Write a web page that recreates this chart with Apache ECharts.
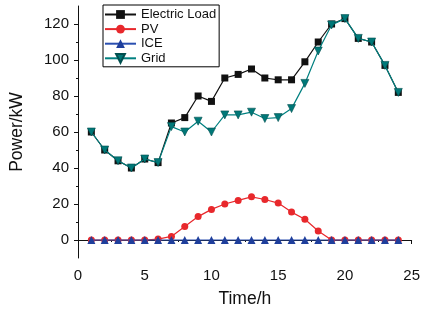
<!DOCTYPE html>
<html><head><meta charset="utf-8">
<script src="https://cdn.jsdelivr.net/npm/echarts@6/dist/echarts.min.js"></script>
<style>html,body{margin:0;padding:0;background:#fff}#c{width:423px;height:321px}</style>
</head><body><div id="c"></div>
<script>
const hours = [1,2,3,4,5,6,7,8,9,10,11,12,13,14,15,16,17,18,19,20,21,22,23,24];
const electricLoad = [60,50,44,40,45,43,65,68,80,77,90,92,95,90,89,89,99,110,120,123,112,110,97,82];
const pv = [0,0,0,0,0,0.5,2,7.5,13,17,20,22,24,22.5,20.5,15.5,11.5,5,0,0,0,0,0,0];
const ice = [0,0,0,0,0,0,0,0,0,0,0,0,0,0,0,0,0,0,0,0,0,0,0,0];
const grid = [60,50,44,40,45,43,63,60,66,60,69.5,69.5,71,67.5,68,73,87,105,119.5,123,112,110,97,82];
const yLabels = [0,20,40,60,80,100,120];
const yMinor = [10,30,50,70,90,110];

const pair = a => hours.map((h,i)=>[h,a[i]]);
const chart = echarts.init(document.getElementById('c'));
const font = 'Liberation Sans, Arial, sans-serif';
chart.setOption({
  animation:false,
  grid:{left:74,right:10,top:6,bottom:63},
  legend:{
    orient:'vertical', left:103, top:5, itemWidth:31, itemHeight:11, itemGap:1.6,
    padding:[3,3,2,1], borderColor:'#000', borderWidth:1, backgroundColor:'#fff',
    textStyle:{fontFamily:font,fontSize:13,lineHeight:13,color:'#111',padding:[0,0,0,0]},
    data:['Electric Load','PV','ICE','Grid']
  },
  xAxis:{
    type:'value', min:0, max:25, interval:5,
    name:'Time/h', nameLocation:'middle', nameGap:32,
    nameTextStyle:{fontFamily:font,fontSize:17.5,color:'#111'},
    axisLine:{lineStyle:{color:'#111',width:1}},
    axisTick:{length:4,lineStyle:{color:'#111'}},
    minorTick:{show:true,splitNumber:2,length:2,lineStyle:{color:'#111'}},
    splitLine:{show:false},
    axisLabel:{fontFamily:font,fontSize:15,color:'#111',margin:10}
  },
  yAxis:[{
    type:'value', min:-10, max:130,
    name:'Power/kW', nameLocation:'middle', nameGap:52,
    nameTextStyle:{fontFamily:font,fontSize:17.5,color:'#111'},
    axisLine:{show:true,lineStyle:{color:'#111',width:1}},
    axisTick:{show:true,length:4,customValues:yLabels,lineStyle:{color:'#111'}},
    axisLabel:{fontFamily:font,fontSize:15,color:'#111',margin:9,customValues:yLabels},
    splitLine:{show:false}
  },{
    type:'value', min:-10, max:130, position:'left',
    axisLine:{show:false},
    axisTick:{show:true,length:2,customValues:yMinor,lineStyle:{color:'#111'}},
    axisLabel:{show:false},
    splitLine:{show:false}
  }],
  series:[
    {name:'Electric Load',type:'line',data:pair(electricLoad),symbol:'rect',symbolSize:7,
     lineStyle:{color:'#111',width:1.2},itemStyle:{color:'#111'},z:2},
    {name:'PV',type:'line',data:pair(pv),symbol:'circle',symbolSize:7,
     lineStyle:{color:'#e8282c',width:1.2},itemStyle:{color:'#e8282c'},z:3},
    {name:'ICE',type:'line',data:pair(ice),symbol:'triangle',symbolSize:8,
     lineStyle:{color:'#2a4fb0',width:1.2},itemStyle:{color:'#1f3f9c'},z:4},
    {name:'Grid',type:'line',data:pair(grid),symbol:'triangle',symbolRotate:180,symbolSize:8,
     lineStyle:{color:'#008080',width:1.2},itemStyle:{color:'#007878',borderColor:'#004f4f',borderWidth:0.6},z:5}
  ]
});
</script></body></html>
